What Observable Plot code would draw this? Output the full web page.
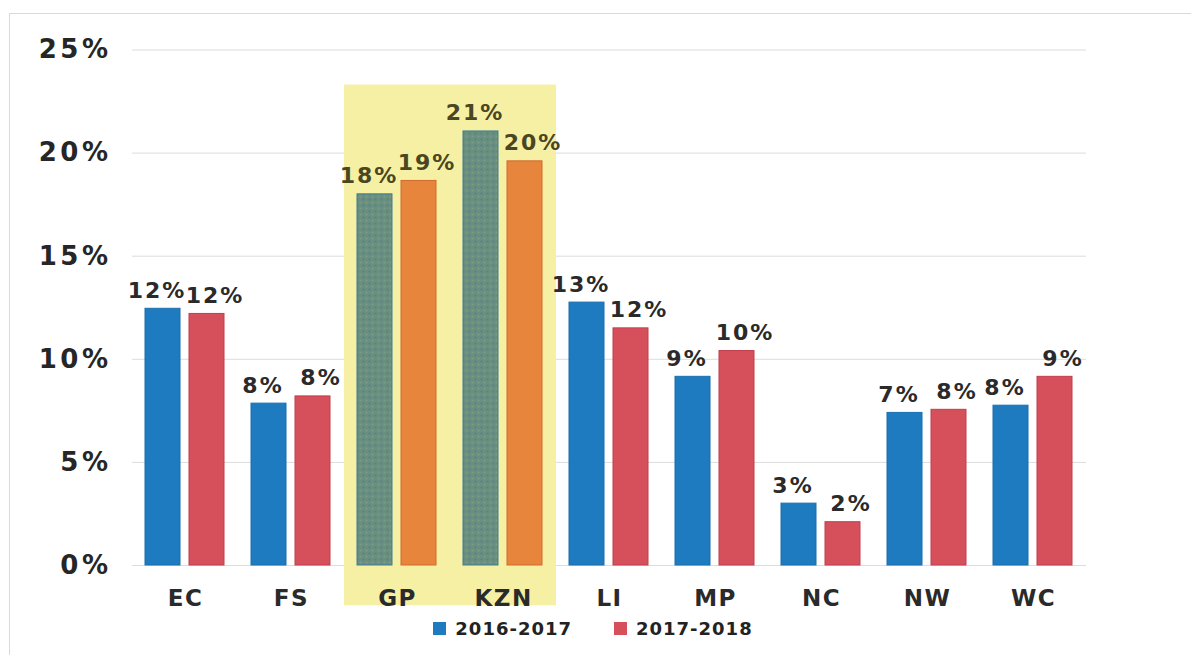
<!DOCTYPE html>
<html>
<head>
<meta charset="utf-8">
<script src="https://cdn.jsdelivr.net/npm/d3@7"></script>
<script src="https://cdn.jsdelivr.net/npm/@observablehq/plot@0.6"></script>
<style>
  html, body { margin: 0; padding: 0; background: #ffffff; }
  body { width: 1191px; height: 655px; position: relative; overflow: hidden; font-family: "DejaVu Sans", Verdana, sans-serif; }
  #frame { position: absolute; left: 9px; top: 13px; width: 1200px; height: 700px; border: 1px solid #d9d9d9; box-sizing: border-box; }
  #chart { position: absolute; left: 0; top: 0; }
  #chart svg g[aria-label="y-axis tick label"] text { letter-spacing: 3.5px; }
  #chart svg g[aria-label="fx-axis tick label"] text { letter-spacing: 1.5px; }
  #chart svg g[aria-label="text"] text { letter-spacing: 2px; }
  #legend { position: absolute; top: 618px; left: 0; width: 1186px; display: flex; justify-content: center; gap: 42px;
            font-weight: bold; font-size: 18px; letter-spacing: 1px; color: #222; }
  #legend .item { display: flex; align-items: center; gap: 9px; }
  #legend .sw { width: 13px; height: 13px; display: inline-block; }
</style>
</head>
<body>
<svg width="0" height="0" style="position:absolute">
  <defs>
    <pattern id="dots" width="6" height="6" patternUnits="userSpaceOnUse">
      <rect width="6" height="6" fill="#688f82"/>
      <circle cx="1.5" cy="1.5" r="1" fill="#52808c"/>
      <circle cx="4.5" cy="4.5" r="1" fill="#7e9d7c"/>
    </pattern>
  </defs>
</svg>
<div id="frame"></div>
<div id="chart"></div>
<div id="legend"></div>
<script>
const categories = ["EC", "FS", "GP", "KZN", "LI", "MP", "NC", "NW", "WC"];
const series = ["2016-2017", "2017-2018"];
const values2016 = [12.45, 7.85, 18.0, 21.05, 12.75, 9.15, 3.0, 7.4, 7.75];
const values2017 = [12.2, 8.2, 18.65, 19.6, 11.5, 10.4, 2.1, 7.55, 9.15];
const highlighted = ["GP", "KZN"];
const yTicks = [0, 5, 10, 15, 20, 25];

const seriesColors = ["#1f7bbf", "#d6505c"];
const seriesStroke = ["#1b6fae", "#c23d4a"];
const highlightFill = ["url(#dots)", "#e8853c"];
const highlightStroke = ["#3f7c96", "#d06a2c"];
const HL_TOP = 23.3, HL_BOTTOM = -1.95;

const rows = categories.flatMap((c, i) => [
  {category: c, series: series[0], value: values2016[i]},
  {category: c, series: series[1], value: values2017[i]}
]);
const isHL = d => highlighted.includes(d.category);
const si = d => series.indexOf(d.series);

const labelMark = (s, dx) => Plot.text(rows.filter(d => d.series === s), {
  fx: "category", x: "series", y: "value",
  text: d => Math.round(d.value) + "%",
  lineAnchor: "bottom", dy: -11, dx,
  fontSize: 22, fontWeight: "bold",
  fill: d => isHL(d) ? "#4a4622" : "#2a2a2a"
});

const chart = Plot.plot({
  width: 1191,
  height: 612,
  marginLeft: 132,
  marginRight: 105,
  marginTop: 49.5,
  marginBottom: 47,
  style: {fontFamily: "'DejaVu Sans', Verdana, sans-serif", background: "transparent"},
  fx: {domain: categories, padding: 0, label: null, axis: null},
  x: {domain: series, paddingInner: 0.2, paddingOuter: 0.278, axis: null},
  y: {domain: [0, 25], axis: null, label: null},
  color: {type: "identity"},
  marks: [
    Plot.gridY(yTicks, {stroke: "#dcdcdc", strokeOpacity: 1, strokeWidth: 1}),
    Plot.rect(highlighted, {fx: d => d, y1: () => HL_BOTTOM, y2: () => HL_TOP, fill: "#f6f0a4"}),
    Plot.barY(rows, {
      fx: "category", x: "series", y: "value",
      fill: d => isHL(d) ? highlightFill[si(d)] : seriesColors[si(d)],
      stroke: d => isHL(d) ? highlightStroke[si(d)] : seriesStroke[si(d)],
      strokeWidth: 1
    }),
    labelMark(series[0], -6),
    labelMark(series[1], 8),
    Plot.axisY(yTicks, {
      tickFormat: d => d + "%", tickSize: 0, tickPadding: 21, label: null,
      fontSize: 26, fontWeight: "bold", fill: "#262626"
    }),
    Plot.axisFx({
      anchor: "bottom", tickSize: 0, tickPadding: 24, label: null,
      fontSize: 23, fontWeight: "bold", fill: "#2a2a2a"
    })
  ]
});
document.getElementById("chart").appendChild(chart);

const legend = document.getElementById("legend");
series.forEach((s, i) => {
  const item = document.createElement("div");
  item.className = "item";
  const sw = document.createElement("span");
  sw.className = "sw";
  sw.style.background = seriesColors[i];
  const label = document.createElement("span");
  label.textContent = s;
  item.appendChild(sw);
  item.appendChild(label);
  legend.appendChild(item);
});
</script>
</body>
</html>
